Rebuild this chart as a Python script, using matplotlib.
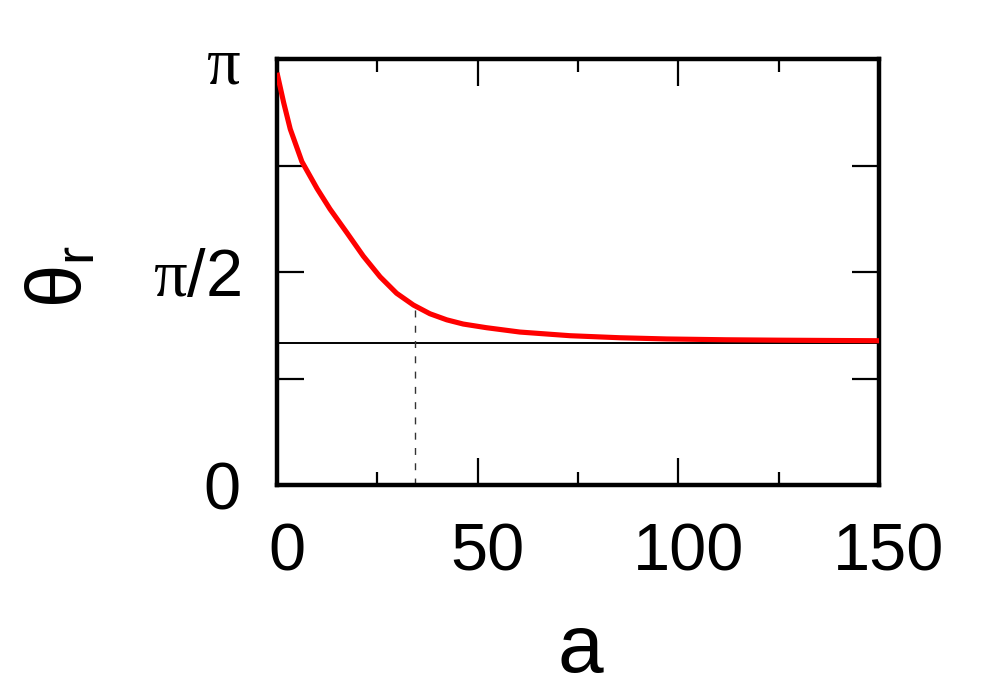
import numpy as np
import matplotlib
matplotlib.use("Agg")
import matplotlib.pyplot as plt
from matplotlib.ticker import FixedLocator
from matplotlib.transforms import ScaledTranslation

plt.rcParams['font.family'] = ['Liberation Sans', 'DejaVu Sans']
plt.rcParams['mathtext.fontset'] = 'custom'
plt.rcParams['mathtext.rm'] = 'Liberation Sans'
plt.rcParams['mathtext.it'] = 'Liberation Serif'

# data
a_vals = [0, 1.66, 3.3, 6.2, 10.0, 13.2, 17.4, 21.5, 25.7, 29.8, 34.0,
          38.1, 42.3, 46.4, 52.2, 60.5, 73.0, 85.4, 97.1, 112, 125, 137, 150]
theta_vals = [3.04, 2.82, 2.625, 2.385, 2.185, 2.035, 1.861, 1.688, 1.535,
              1.414, 1.327, 1.263, 1.218, 1.187, 1.160, 1.128, 1.101, 1.086,
              1.077, 1.071, 1.068, 1.066, 1.064]
asymptote = np.pi / 3
a_mark = 34.4
theta_mark = 1.32

x_major = [0, 50, 100, 150]
x_minor = [25, 75, 125]
y_ticks = [0, np.pi / 4, np.pi / 2, 3 * np.pi / 4, np.pi]
y_labels = ['0', '', r'$\pi$/2', '', r'$\pi$']

fig = plt.figure(figsize=(9.97, 6.92), dpi=100)
ax = fig.add_axes([277 / 997, 1 - 485 / 692, 602 / 997, 426 / 692])

ax.axhline(asymptote, color='black', lw=1.4, zorder=2)
ax.plot([a_mark, a_mark], [0, theta_mark], color='#333333', lw=1.0,
        ls=(0, (5, 6)), zorder=2)
ax.plot(a_vals, theta_vals, color='#ff0000', lw=3.7, zorder=3,
        solid_capstyle='butt', solid_joinstyle='round')

ax.set_xlim(0, 150)
ax.set_ylim(0, np.pi)
ax.xaxis.set_major_locator(FixedLocator(x_major))
ax.xaxis.set_minor_locator(FixedLocator(x_minor))
ax.set_xticklabels([str(v) for v in x_major])
ax.yaxis.set_major_locator(FixedLocator(y_ticks))
ax.set_yticklabels(y_labels)

ax.tick_params(which='major', direction='in', length=19.5, width=1.6,
               top=True, right=True, labelsize=48)
ax.tick_params(which='minor', direction='in', length=9.5, width=1.6,
               top=True, right=True)
ax.tick_params(axis='x', which='major', pad=27)
ax.tick_params(axis='y', which='major', pad=26)

shift = ScaledTranslation(10 / 100, 0, fig.dpi_scale_trans)
for lbl in ax.get_xticklabels():
    lbl.set_transform(lbl.get_transform() + shift)

for s in ax.spines.values():
    s.set_linewidth(3.2)

fig.text(580 / 997, 1 - 672 / 692, 'a', fontsize=59, ha='center',
         va='baseline')
fig.text(62 / 997, 1 - 276 / 692, r'$\mathrm{\theta_r}$', fontsize=56,
         rotation=90, ha='center', va='center')

fig.savefig('out.png', dpi=100)
